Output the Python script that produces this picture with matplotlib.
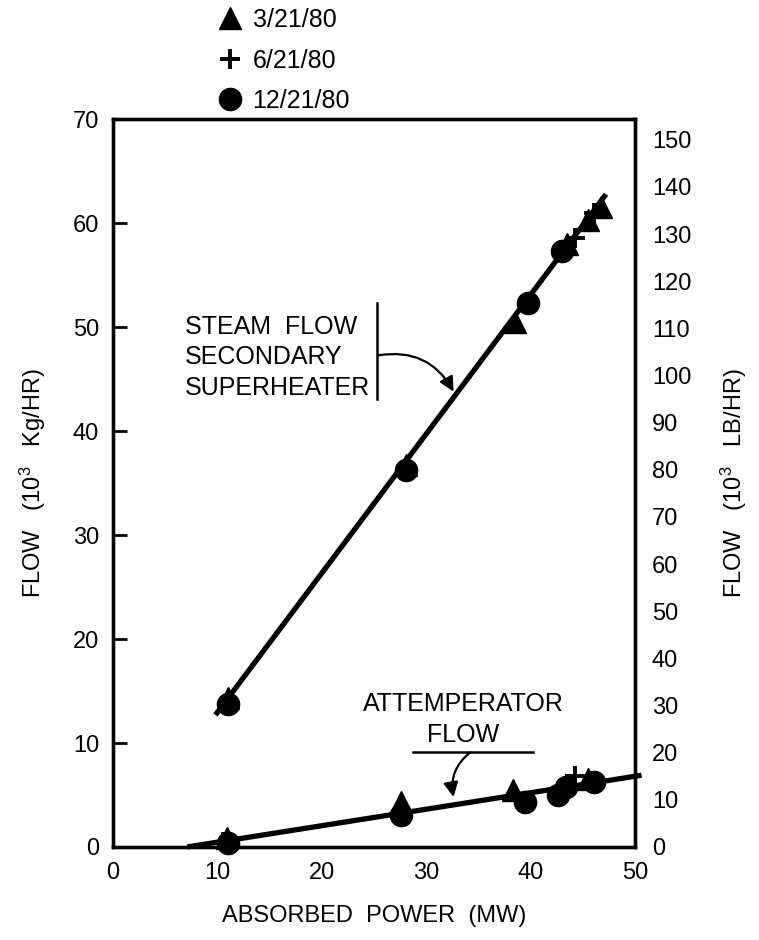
import matplotlib
matplotlib.use("Agg")
import matplotlib.pyplot as plt
import numpy as np

plt.rcParams['font.family'] = ['Liberation Sans', 'DejaVu Sans']
plt.rcParams['mathtext.fontset'] = 'custom'
plt.rcParams['mathtext.rm'] = 'Liberation Sans'
plt.rcParams['mathtext.it'] = 'Liberation Sans'

# --- donnees (debit en 10^3 kg/h) ---
KG_TO_LB = 2.2046

dates = ["3/21/80", "6/21/80", "12/21/80"]

# steam flow, secondary superheater
steam_x_tri = [11.0, 28.0, 38.5, 43.5, 45.5, 46.7]
steam_y_tri = [14.3, 36.7, 50.5, 58.0, 60.3, 61.6]
steam_x_plus = [11.0, 28.0, 44.2, 46.0]
steam_y_plus = [14.0, 36.5, 58.6, 61.0]
steam_x_circ = [11.0, 28.0, 39.7, 43.0]
steam_y_circ = [13.8, 36.3, 52.3, 57.3]
steam_fit_x = [9.8, 47.2]
steam_fit_y = [12.7, 62.8]

# attemperator flow
att_x_tri = [10.9, 27.6, 38.3, 45.5]
att_y_tri = [0.9, 4.3, 5.5, 6.5]
att_x_plus = [10.5, 44.2]
att_y_plus = [0.5, 6.8]
att_x_circ = [11.0, 27.6, 39.4, 42.6, 43.4, 46.0]
att_y_circ = [0.4, 3.1, 4.3, 5.0, 5.8, 6.2]
att_fit_x = [7.1, 50.6]
att_fit_y = [0.0, 6.9]

x_ticks = [0, 10, 20, 30, 40, 50]
y_ticks = [0, 10, 20, 30, 40, 50, 60, 70]
y2_ticks = list(range(0, 151, 10))

fig = plt.figure(figsize=(7.59, 9.40), dpi=100)
ax = fig.add_axes([0.149, 0.099, 0.688, 0.774])

# lignes de tendance
ax.plot(steam_fit_x, steam_fit_y, color='black', linewidth=3.8,
        solid_capstyle='butt', clip_on=False, zorder=3)
ax.plot(att_fit_x, att_fit_y, color='black', linewidth=3.8,
        solid_capstyle='butt', clip_on=False, zorder=3)

# points de mesure
mk = dict(color='black', linestyle='none', clip_on=False, zorder=4)
h_tri, = ax.plot(steam_x_tri, steam_y_tri, marker='^', markersize=16, label=dates[0], **mk)
h_plus, = ax.plot(steam_x_plus, steam_y_plus, marker='+', markersize=14,
                  markeredgewidth=2.8, label=dates[1], **mk)
h_circ, = ax.plot(steam_x_circ, steam_y_circ, marker='o', markersize=16, label=dates[2], **mk)
ax.plot(att_x_tri, att_y_tri, marker='^', markersize=16, **mk)
ax.plot(att_x_plus, att_y_plus, marker='+', markersize=14, markeredgewidth=2.8, **mk)
ax.plot(att_x_circ, att_y_circ, marker='o', markersize=16, **mk)

ax.set_xlim(0, 50)
ax.set_ylim(0, 70)
ax.set_xticks(x_ticks)
ax.set_yticks(y_ticks)

for s in ax.spines.values():
    s.set_linewidth(2.4)

ax.tick_params(axis='x', direction='in', length=10, width=2, labelsize=17,
               pad=11, top=True)
ax.tick_params(axis='y', direction='in', length=10, width=2, labelsize=17,
               pad=10)
# pas de tirets aux extremites
for t in ax.xaxis.get_major_ticks():
    if t.get_loc() in (0, 50):
        t.tick1line.set_visible(False)
        t.tick2line.set_visible(False)
for t in ax.yaxis.get_major_ticks():
    if t.get_loc() in (0, 70):
        t.tick1line.set_visible(False)

ax.set_xlabel("ABSORBED  POWER  (MW)", fontsize=17, labelpad=15)
ax.set_ylabel("FLOW   (10$^3$   Kg/HR)", fontsize=17, labelpad=18)

# axe droit en lb/h
ax2 = ax.twinx()
ax2.set_ylim(0, 70 * KG_TO_LB)
ax2.set_yticks(y2_ticks)
ax2.tick_params(axis='y', direction='in', length=10, width=2, labelsize=17, pad=12)
for t in ax2.yaxis.get_major_ticks():
    if t.get_loc() == 0:
        t.tick2line.set_visible(False)
for s in ax2.spines.values():
    s.set_linewidth(2.4)
ax2.set_ylabel("FLOW   (10$^3$   LB/HR)", fontsize=17, labelpad=20)

# annotations
ax.text(6.9, 47.1, "STEAM  FLOW\nSECONDARY\nSUPERHEATER", fontsize=18,
        ha='left', va='center', linespacing=1.33)
ax.plot([25.3, 25.3], [43.1, 52.3], color='black', linewidth=1.8)
ax.annotate("", xy=(32.6, 43.8), xytext=(25.4, 47.3),
            arrowprops=dict(arrowstyle='-|>', color='black', lw=1.6,
                            mutation_scale=22, shrinkA=0, shrinkB=0,
                            connectionstyle='arc3,rad=-0.35'))

ax.text(33.5, 13.8, "ATTEMPERATOR", fontsize=18, ha='center', va='center')
ax.text(33.5, 10.8, "FLOW", fontsize=18, ha='center', va='center')
ax.plot([28.7, 40.2], [9.1, 9.1], color='black', linewidth=1.8)
ax.annotate("", xy=(32.6, 4.8), xytext=(34.2, 9.1),
            arrowprops=dict(arrowstyle='-|>', color='black', lw=1.6,
                            mutation_scale=22, shrinkA=0, shrinkB=0,
                            connectionstyle='arc3,rad=0.3'))

# legende en haut
fig.legend(handles=[h_tri, h_plus, h_circ], loc='upper left',
           bbox_to_anchor=(0.285, 0.994), frameon=False, fontsize=18,
           handlelength=0.9, handletextpad=0.45, labelspacing=0.66,
           borderpad=0.1, borderaxespad=0, numpoints=1)

fig.savefig("out.png", dpi=100)
